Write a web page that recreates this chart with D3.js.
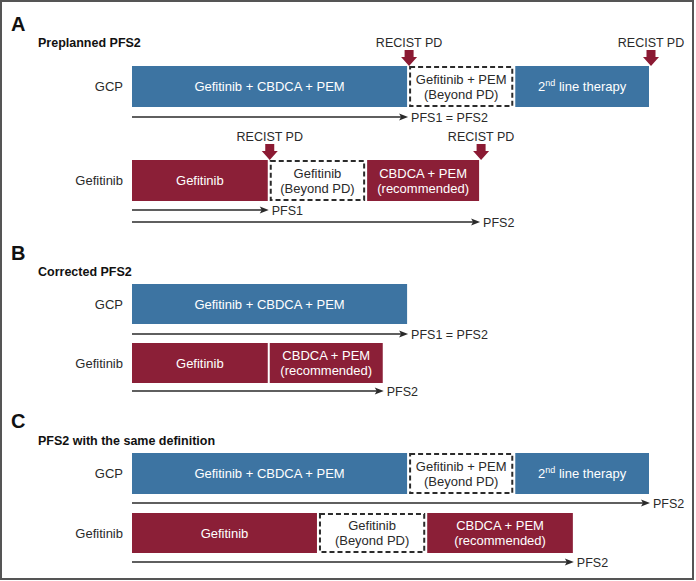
<!DOCTYPE html>
<html>
<head>
<meta charset="utf-8">
<script src="https://cdn.jsdelivr.net/npm/d3@7"></script>
<style>
  body { margin: 0; background: #fff; }
  text { font-family: "Liberation Sans", Arial, sans-serif; }
</style>
</head>
<body>
<svg id="chart" width="696" height="581"></svg>
<script>
// ---------------- DATA ----------------
const panelLetters = ["A", "B", "C"];
const panelTitles = ["Preplanned PFS2", "Corrected PFS2", "PFS2 with the same definition"];
const arms = ["GCP", "Gefitinib"];

// segments: [label lines, start, end, kind]  (time in arbitrary units, 0..100)
const segA_GCP = [
  [["Gefitinib + CBDCA + PEM"], 0, 53.3, "gcp"],
  [["Gefitinib + PEM", "(Beyond PD)"], 53.3, 73.8, "beyond"],
  [["2nd line therapy"], 73.8, 100, "gcp"]
];
const segA_Gef = [
  [["Gefitinib"], 0, 26.4, "gef"],
  [["Gefitinib", "(Beyond PD)"], 26.4, 45.2, "beyond"],
  [["CBDCA + PEM", "(recommended)"], 45.2, 67.2, "gef"]
];
const segB_GCP = [
  [["Gefitinib + CBDCA + PEM"], 0, 53.3, "gcp"]
];
const segB_Gef = [
  [["Gefitinib"], 0, 26.4, "gef"],
  [["CBDCA + PEM", "(recommended)"], 26.4, 48.6, "gef"]
];
const segC_GCP = [
  [["Gefitinib + CBDCA + PEM"], 0, 53.3, "gcp"],
  [["Gefitinib + PEM", "(Beyond PD)"], 53.3, 73.8, "beyond"],
  [["2nd line therapy"], 73.8, 100, "gcp"]
];
const segC_Gef = [
  [["Gefitinib"], 0, 35.9, "gef"],
  [["Gefitinib", "(Beyond PD)"], 35.9, 56.8, "beyond"],
  [["CBDCA + PEM", "(recommended)"], 56.8, 85.3, "gef"]
];

// PFS arrows: [end, label]
const pfsA_GCP = [[53.3, "PFS1 = PFS2"]];
const pfsA_Gef = [[26.4, "PFS1"], [67.2, "PFS2"]];
const pfsB_GCP = [[53.3, "PFS1 = PFS2"]];
const pfsB_Gef = [[48.6, "PFS2"]];
const pfsC_GCP = [[100, "PFS2"]];
const pfsC_Gef = [[85.3, "PFS2"]];

// RECIST PD events
const pdA_GCP = [53.3, 100];
const pdA_Gef = [26.4, 67.2];
const pdLabel = "RECIST PD";

const panels = [
  { rows: [ {seg: segA_GCP, pfs: pfsA_GCP, pd: pdA_GCP}, {seg: segA_Gef, pfs: pfsA_Gef, pd: pdA_Gef} ] },
  { rows: [ {seg: segB_GCP, pfs: pfsB_GCP, pd: []}, {seg: segB_Gef, pfs: pfsB_Gef, pd: []} ] },
  { rows: [ {seg: segC_GCP, pfs: pfsC_GCP, pd: []}, {seg: segC_Gef, pfs: pfsC_Gef, pd: []} ] }
];

// ---------------- LAYOUT ----------------
const layout = [
  { letterY: 31, titleY: 47, rows: [ {top: 66, h: 41, arrowY: [117]}, {top: 160, h: 41, arrowY: [210, 222]} ] },
  { letterY: 260, titleY: 276, rows: [ {top: 284, h: 40, arrowY: [334]}, {top: 343, h: 40, arrowY: [391]} ] },
  { letterY: 428, titleY: 445, rows: [ {top: 453, h: 41, arrowY: [503]}, {top: 513, h: 40, arrowY: [562]} ] }
];

const colors = { gcp: "#3d74a2", gef: "#8b1f37", pd: "#8b1a33", ink: "#2a2a2a" };

const svg = d3.select("#chart");
const x = d3.scaleLinear().domain([0, 100]).range([132, 650]);

svg.append("rect").attr("x", 1).attr("y", 1).attr("width", 692).attr("height", 578)
  .attr("fill", "none").attr("stroke", "#555").attr("stroke-width", 2);

panels.forEach((p, pi) => {
  const L = layout[pi];
  const g = svg.append("g");
  g.append("text").attr("x", 11).attr("y", L.letterY).text(panelLetters[pi])
    .attr("font-size", 20).attr("font-weight", "bold").attr("fill", "#111");
  g.append("text").attr("x", 38).attr("y", L.titleY).text(panelTitles[pi])
    .attr("font-size", 12.5).attr("font-weight", "bold").attr("fill", "#111");

  p.rows.forEach((row, ri) => {
    const R = L.rows[ri];
    const mid = R.top + R.h / 2;
    g.append("text").attr("x", 123).attr("y", mid + 4.5).attr("text-anchor", "end")
      .attr("font-size", 13).attr("fill", colors.ink).text(arms[ri]);

    row.seg.forEach(s => {
      const [lines, st, en, kind] = s;
      const x0 = x(st) + (st > 0 ? 1 : 0), x1 = x(en) - 1;
      if (kind === "beyond") {
        g.append("rect").attr("x", x0 + 1).attr("y", R.top + 1).attr("width", x1 - x0 - 2).attr("height", R.h - 2)
          .attr("fill", "#fff").attr("stroke", "#2b2b2b").attr("stroke-width", 2).attr("stroke-dasharray", "5,3");
      } else {
        g.append("rect").attr("x", x0).attr("y", R.top).attr("width", x1 - x0).attr("height", R.h)
          .attr("fill", colors[kind]);
      }
      const fill = kind === "beyond" ? colors.ink : "#fff";
      const cx = (x0 + x1) / 2;
      lines.forEach((ln, li) => {
        const ty = mid + 4.5 + (li - (lines.length - 1) / 2) * 15;
        const t = g.append("text").attr("x", cx).attr("y", ty).attr("text-anchor", "middle")
          .attr("font-size", 13).attr("fill", fill);
        const m = ln.match(/^(\d)(nd)(.*)$/);
        if (m) {
          t.append("tspan").text(m[1]);
          t.append("tspan").attr("dy", -5).attr("font-size", 9).text(m[2]);
          t.append("tspan").attr("dy", 5).text(m[3]);
        } else {
          t.text(ln);
        }
      });
    });

    row.pfs.forEach((a, ai) => {
      const [en, lab] = a;
      const y = R.arrowY[ai];
      const xe = x(en);
      g.append("line").attr("x1", x(0)).attr("x2", xe - 6).attr("y1", y).attr("y2", y)
        .attr("stroke", colors.ink).attr("stroke-width", 1.3);
      g.append("path").attr("d", `M${xe},${y} L${xe - 9},${y - 3.5} L${xe - 7},${y} L${xe - 9},${y + 3.5} Z`)
        .attr("fill", colors.ink);
      g.append("text").attr("x", xe + 3).attr("y", y + 4.5).attr("font-size", 12.5)
        .attr("fill", colors.ink).text(lab);
    });

    row.pd.forEach(v => {
      const cx = x(v) + 1;
      const tip = R.top;
      const top = tip - 16;
      g.append("path").attr("d",
        `M${cx - 4.5},${top} L${cx + 4.5},${top} L${cx + 4.5},${top + 7} L${cx + 8},${top + 7} L${cx},${tip} L${cx - 8},${top + 7} L${cx - 4.5},${top + 7} Z`)
        .attr("fill", colors.pd);
      g.append("text").attr("x", cx).attr("y", top - 3).attr("text-anchor", "middle")
        .attr("font-size", 12.5).attr("fill", colors.ink).text(pdLabel);
    });
  });
});
</script>
</body>
</html>
